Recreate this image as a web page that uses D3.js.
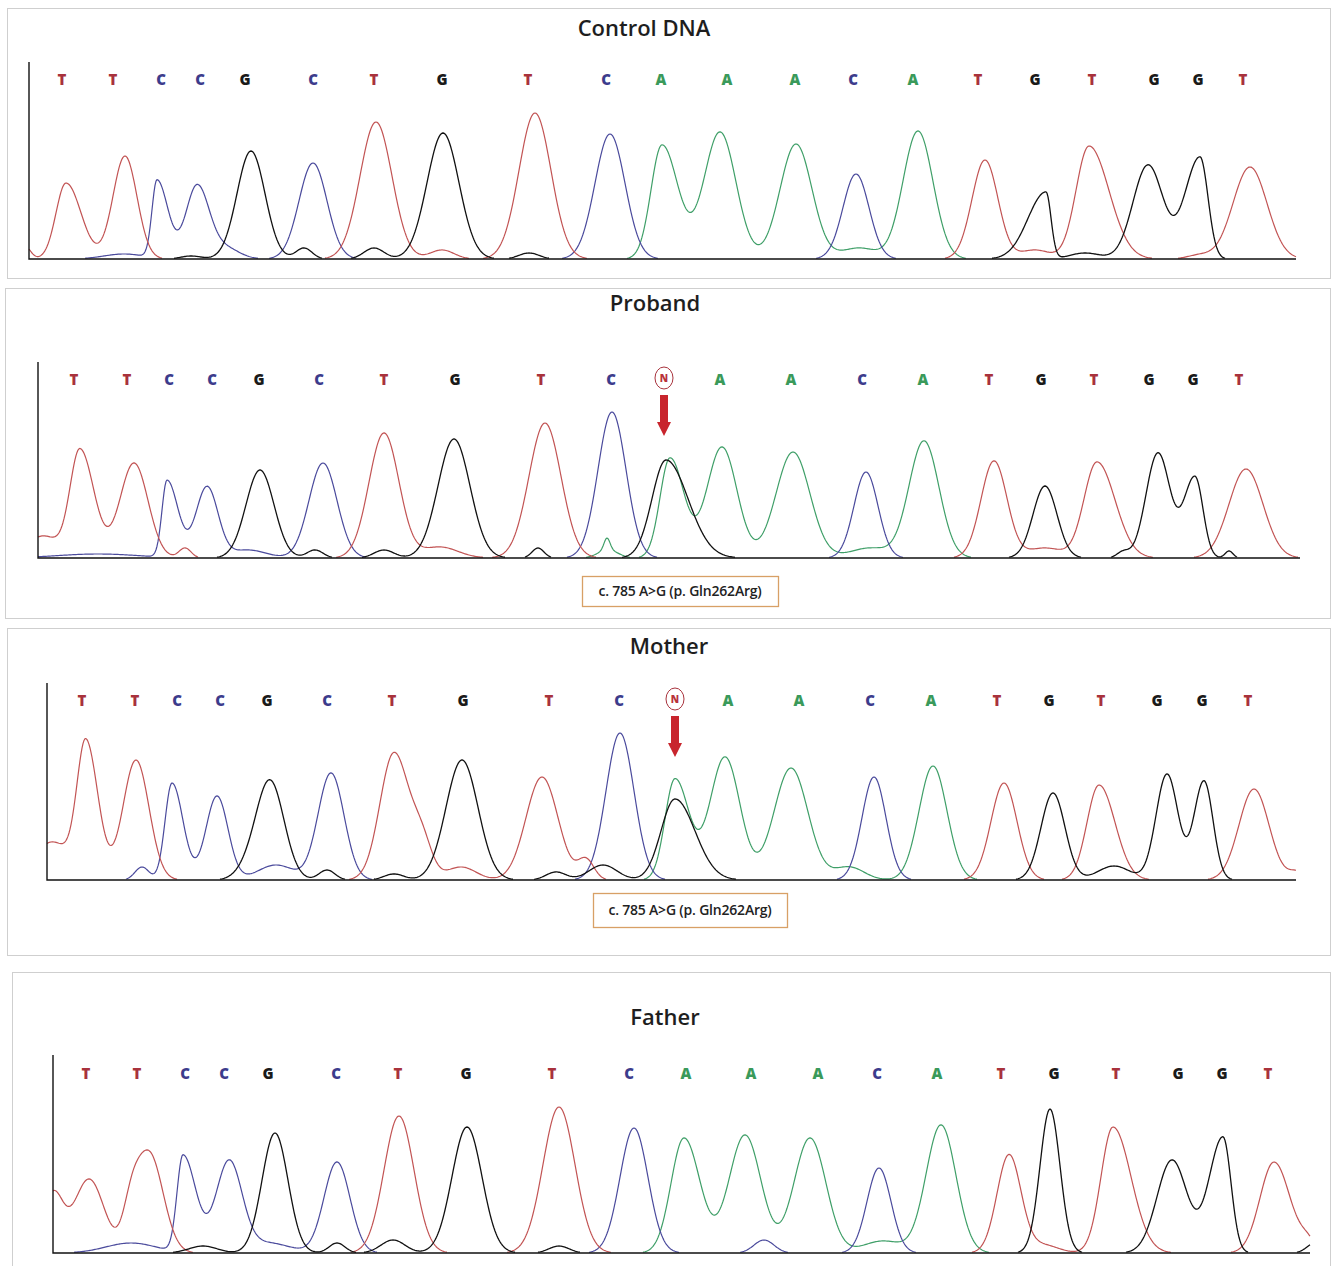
<!DOCTYPE html>
<html>
<head>
<meta charset="utf-8">
<script src="https://cdn.jsdelivr.net/npm/d3@7"></script>
<style>
  body { margin: 0; background: #fff; }
  svg { display: block; }
</style>
</head>
<body>
<svg id="chart"></svg>
<script>
// base calls (same reading frame in all four samples)
const refBases = ['T', 'T', 'C', 'C', 'G', 'C', 'T', 'G', 'T', 'C', 'A', 'A', 'A', 'C', 'A', 'T', 'G', 'T', 'G', 'G', 'T'];
const hetBases = ['T', 'T', 'C', 'C', 'G', 'C', 'T', 'G', 'T', 'C', 'N', 'A', 'A', 'C', 'A', 'T', 'G', 'T', 'G', 'G', 'T'];
const variantLabel = 'c. 785 A>G (p. Gln262Arg)';

// base call positions (scan number)
const controlCalls = [33, 84, 132, 171, 216, 284, 345, 413, 499, 577, 632, 698, 766, 824, 884, 949, 1006, 1063, 1125, 1169, 1214];
const probandCalls = [36, 89, 131, 174, 221, 281, 346, 417, 503, 573, 626, 682, 753, 824, 885, 951, 1003, 1056, 1111, 1155, 1201];
const motherCalls = [35, 88, 130, 173, 220, 280, 345, 416, 502, 572, 628, 681, 752, 823, 884, 950, 1002, 1054, 1110, 1155, 1201];
const fatherCalls = [33, 84, 132, 171, 215, 283, 345, 413, 499, 576, 633, 698, 765, 824, 884, 948, 1001, 1063, 1125, 1169, 1215];

// peaks per dye channel: [scan, signal, spread left, spread right]
const controlA = [[633, 114, 11, 16], [691, 127, 16], [767, 115, 16], [830, 11, 18], [889, 128, 15]];
const controlC = [[95, 5, 20], [128, 78, 5, 11], [168, 73, 11, 12], [196, 11, 14], [284, 96, 14], [581, 125, 15], [827, 85, 13]];
const controlG = [[162, 3, 10], [222, 108, 14], [275, 11, 8], [345, 11, 10], [414, 126, 16], [500, 6, 10],
  [1017, 67, 18, 5], [1056, 6, 15], [1119, 94, 15], [1171, 102, 15, 8]];
const controlT = [[-5, 14, 6], [37, 76, 10, 15], [96, 103, 12], [347, 137, 16], [413, 9, 12], [506, 146, 16],
  [956, 99, 13], [1006, 9, 15], [1060, 113, 13, 20], [1171, 4, 12], [1221, 92, 17]];

const probandA = [[570, 8, 10], [569, 12, 3], [632, 100, 10, 14], [684, 111, 15], [755, 106, 17], [832, 10, 20], [886, 117, 15]];
const probandC = [[60, 4, 40], [129, 77, 5, 11], [169, 71, 11], [210, 8, 18], [285, 95, 14], [574, 146, 14], [828, 86, 12]];
const probandG = [[222, 88, 14], [277, 8, 8], [346, 8, 10], [416, 119, 16], [500, 10, 6], [628, 98, 14, 22],
  [1007, 72, 12], [1085, 6, 6], [1120, 105, 12], [1157, 81, 11, 8], [1191, 7, 4]];
const probandT = [[5, 22, 16], [42, 108, 10, 14], [96, 95, 14], [147, 10, 6], [346, 125, 15], [402, 11, 18], [507, 135, 16],
  [956, 97, 13], [1007, 10, 18], [1059, 96, 13, 18], [1208, 89, 17]];

const motherA = [[628, 101, 10, 14], [678, 123, 15], [744, 112, 17], [802, 13, 15], [886, 114, 14]];
const motherC = [[95, 13, 7], [125, 97, 7, 11], [170, 84, 11], [229, 15, 18], [284, 107, 13], [573, 147, 14], [827, 103, 12]];
const motherG = [[200, 8, 12], [223, 99, 14], [280, 10, 8], [347, 6, 10], [415, 120, 16], [509, 8, 10], [556, 15, 14],
  [628, 81, 14, 20], [1006, 87, 12], [1067, 14, 16], [1120, 106, 11], [1157, 99, 10, 9]];
const motherT = [[5, 38, 18], [39, 135, 9, 12], [89, 120, 13], [347, 127, 14, 15], [375, 35, 10], [414, 13, 15], [495, 103, 16],
  [539, 20, 8], [957, 97, 13], [1052, 95, 12, 16], [1207, 91, 15], [1250, 8, 8]];

const fatherA = [[631, 115, 13, 16], [692, 118, 16], [757, 115, 16], [830, 12, 20], [888, 128, 15]];
const fatherC = [[78, 10, 25], [130, 97, 6, 13], [176, 91, 13], [215, 10, 22], [284, 91, 13], [581, 125, 14], [711, 13, 10], [826, 85, 12]];
const fatherG = [[150, 7, 14], [222, 120, 13], [284, 10, 8], [340, 13, 12], [414, 126, 15], [506, 7, 10],
  [997, 144, 10], [1119, 93, 15], [1170, 116, 14, 8], [1262, 10, 8]];
const fatherT = [[0, 58, 10], [36, 74, 15], [78, 30, 8], [96, 100, 14], [346, 137, 15], [506, 146, 16],
  [956, 98, 12], [990, 8, 15], [1060, 126, 12, 18], [1221, 91, 14, 16], [1255, 10, 8]];

const width = 1332;
const height = 1266;

const traceColor = {A: '#3f9f68', C: '#4a4a9c', G: '#111111', T: '#c25454'};
const labelColor = {A: '#3a9a5a', C: '#3c3c8c', G: '#1a1a1a', T: '#a8323c', N: '#b8323c'};

const panels = [
  {title: 'Control DNA', box: [7, 8, 1323, 270], titleX: 644, titleY: 36, axis: [29, 1296, 62, 259], labelY: 85, scans: 1267,
    bases: refBases, calls: controlCalls, traces: {A: controlA, C: controlC, G: controlG, T: controlT}},
  {title: 'Proband', box: [5, 288, 1325, 330], titleX: 655, titleY: 311, axis: [38, 1300, 362, 558], labelY: 385, scans: 1262,
    bases: hetBases, calls: probandCalls, traces: {A: probandA, C: probandC, G: probandG, T: probandT},
    note: [582, 576, 196, 30]},
  {title: 'Mother', box: [7, 628, 1323, 327], titleX: 669, titleY: 654, axis: [47, 1296, 683, 880], labelY: 706, scans: 1249,
    bases: hetBases, calls: motherCalls, traces: {A: motherA, C: motherC, G: motherG, T: motherT},
    note: [593, 893, 194, 34]},
  {title: 'Father', box: [12, 972, 1318, 310], titleX: 665, titleY: 1025, axis: [53, 1310, 1055, 1253], labelY: 1079, scans: 1257,
    bases: refBases, calls: fatherCalls, traces: {A: fatherA, C: fatherC, G: fatherG, T: fatherT}}
];

const svg = d3.select('svg#chart')
  .attr('width', width)
  .attr('height', height)
  .style('background', '#fff');

// sum of (skewed) gaussian peaks at one scan
function signalAt(peaks, s) {
  let v = 0;
  peaks.forEach(p => {
    const sd = s < p[0] ? p[2] : (p[3] || p[2]);
    v += p[1] * Math.exp(-((s - p[0]) ** 2) / (2 * sd * sd));
  });
  return v;
}

panels.forEach(panel => {
  const g = svg.append('g');
  const [x0, x1, yTop, yBase] = panel.axis;

  g.append('rect')
    .attr('x', panel.box[0] + 0.5)
    .attr('y', panel.box[1] + 0.5)
    .attr('width', panel.box[2])
    .attr('height', panel.box[3])
    .attr('fill', '#fff')
    .attr('stroke', '#cfcfcf');

  g.append('text')
    .attr('x', panel.titleX)
    .attr('y', panel.titleY)
    .attr('text-anchor', 'middle')
    .attr('font-family', '"Open Sans", sans-serif')
    .attr('font-weight', 600)
    .attr('font-size', '22px')
    .attr('fill', '#1e1e1e')
    .text(panel.title);

  const x = d3.scaleLinear().domain([0, panel.scans]).range([x0, x1]);
  const y = d3.scaleLinear().domain([0, yBase - yTop]).range([yBase, yTop]);

  // traces
  const scans = d3.range(0, panel.scans + 1, 1);
  const line = d3.line()
    .defined(d => d.v > 0.7)
    .x(d => x(d.s))
    .y(d => y(d.v));

  ['A', 'C', 'T', 'G'].forEach(ch => {
    const pts = scans.map(s => ({s: s, v: signalAt(panel.traces[ch], s)}));
    g.append('path')
      .datum(pts)
      .attr('fill', 'none')
      .attr('stroke', traceColor[ch])
      .attr('stroke-width', ch === 'G' ? 1.3 : 1.2)
      .attr('stroke-linejoin', 'round')
      .attr('d', line);
  });

  // axes
  g.append('path')
    .attr('d', `M${x0},${yTop}V${yBase}H${x1}`)
    .attr('fill', 'none')
    .attr('stroke', '#111')
    .attr('stroke-width', 1.4);

  // base calls
  g.selectAll('text.base')
    .data(panel.bases.map((b, i) => ({b: b, s: panel.calls[i]})))
    .join('text')
    .attr('class', 'base')
    .attr('x', d => x(d.s))
    .attr('y', d => d.b === 'N' ? panel.labelY - 3 : panel.labelY)
    .attr('text-anchor', 'middle')
    .attr('font-family', '"Open Sans", sans-serif')
    .attr('font-weight', 800)
    .attr('font-size', d => d.b === 'N' ? '10px' : '15px')
    .attr('fill', d => labelColor[d.b])
    .text(d => d.b);

  // variant marker
  const n = panel.bases.indexOf('N');
  if (n >= 0) {
    const cx = x(panel.calls[n]);
    const cy = panel.labelY - 7;
    g.append('ellipse')
      .attr('cx', cx)
      .attr('cy', cy)
      .attr('rx', 9)
      .attr('ry', 11)
      .attr('fill', 'none')
      .attr('stroke', '#a8323c')
      .attr('stroke-width', 1);

    const top = cy + 17;
    g.append('path')
      .attr('d', `M${cx - 4},${top}H${cx + 4}V${top + 27}H${cx + 7}L${cx},${top + 41}L${cx - 7},${top + 27}H${cx - 4}Z`)
      .attr('fill', '#c8252d');
  }

  if (panel.note) {
    const [nx, ny, nw, nh] = panel.note;
    g.append('rect')
      .attr('x', nx + 0.5)
      .attr('y', ny + 0.5)
      .attr('width', nw)
      .attr('height', nh)
      .attr('fill', '#fff')
      .attr('stroke', '#d8a066')
      .attr('stroke-width', 1.3);
    g.append('text')
      .attr('x', nx + nw / 2)
      .attr('y', ny + nh / 2 + 5)
      .attr('text-anchor', 'middle')
      .attr('font-family', '"Open Sans", sans-serif')
      .attr('font-weight', 600)
      .attr('font-size', '14px')
      .attr('letter-spacing', '-0.2px')
      .attr('fill', '#222')
      .text(variantLabel);
  }
});
</script>
</body>
</html>
